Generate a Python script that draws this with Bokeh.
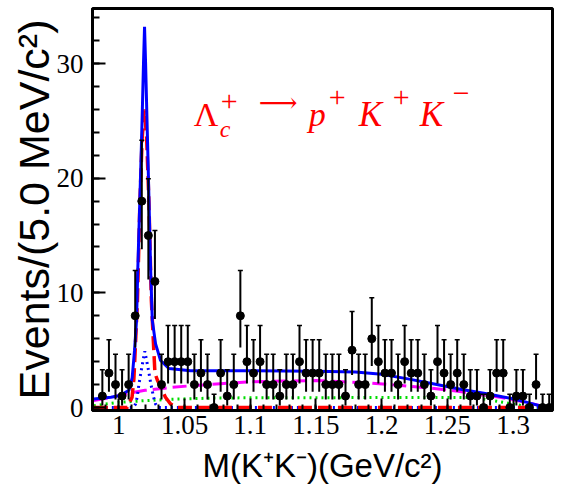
import numpy as np
from bokeh.plotting import figure
from bokeh.models import Range1d, FixedTicker, CustomJSTickFormatter, Label, ColumnDataSource
from bokeh.embed import file_html
from bokeh.resources import INLINE

# ---- data ----
bin_centers = [0.9875, 0.9925, 0.9975, 1.0025, 1.0075, 1.0125, 1.0175, 1.0225, 1.0275, 1.0325,
               1.0375, 1.0425, 1.0475, 1.0525, 1.0575, 1.0625, 1.0675, 1.0725, 1.0775, 1.0825,
               1.0875, 1.0925, 1.0975, 1.1025, 1.1075, 1.1125, 1.1175, 1.1225, 1.1275, 1.1325,
               1.1375, 1.1425, 1.1475, 1.1525, 1.1575, 1.1625, 1.1675, 1.1725, 1.1775, 1.1825,
               1.1875, 1.1925, 1.1975, 1.2025, 1.2075, 1.2125, 1.2175, 1.2225, 1.2275, 1.2325,
               1.2375, 1.2425, 1.2475, 1.2525, 1.2575, 1.2625, 1.2675, 1.2725, 1.2775, 1.2825,
               1.2875, 1.2925, 1.2975, 1.3025, 1.3075, 1.3125, 1.3175, 1.3225, 1.3275]
counts = [1, 3, 2, 1, 2, 8, 18, 15, 11, 2,
          4, 4, 4, 4, 2, 3, 2, 0, 3, 1,
          2, 8, 4, 3, 4, 2, 2, 1, 2, 2,
          4, 3, 3, 3, 2, 2, 2, 1, 5, 2,
          2, 6, 4, 3, 3, 2, 4, 3, 3, 2,
          1, 4, 3, 2, 3, 2, 1, 1, 0, 1,
          3, 3, 0, 1, 1, 0, 2, 0, 0]

# Poisson (68.3%) interval: count -> (down, up)
poisson_err = {0: (0.0, 1.15), 1: (0.83, 2.30), 2: (1.29, 2.64), 3: (1.63, 2.92),
               4: (1.91, 3.16), 5: (2.16, 3.38), 6: (2.38, 3.58), 8: (2.77, 3.95),
               11: (3.27, 4.43), 15: (3.83, 4.96), 18: (4.20, 5.30)}

# total fit (blue solid)
total_x = [0.981, 0.994, 1.001, 1.0077, 1.0102, 1.012, 1.0135, 1.0145, 1.016, 1.0175, 1.0188,
           1.0196, 1.0204, 1.0217, 1.023, 1.0242, 1.0255, 1.028, 1.0318, 1.0381, 1.0546,
           1.10, 1.15, 1.18, 1.20, 1.22, 1.24, 1.26, 1.28, 1.30, 1.315, 1.325, 1.33]
total_y = [0.75, 0.9, 1.05, 1.5, 2.6, 5.0, 7.6, 12.2, 18.0, 24.0, 30.0,
           33.2, 30.0, 24.0, 18.0, 12.2, 7.6, 5.55, 4.1, 3.4, 3.2,
           3.2, 3.17, 3.1, 2.9, 2.5, 2.05, 1.6, 1.2, 0.76, 0.32, 0.0, 0.0]

# phi signal (red dashed)
phi_x = [0.981, 1.0065, 1.0101, 1.0115, 1.0142, 1.0161, 1.0178, 1.0195, 1.0212, 1.0229,
         1.0248, 1.0275, 1.0295, 1.0355, 1.0395, 1.0445, 1.33]
phi_y = [0.0, 0.0, 0.9, 2.5, 9.3, 18.0, 23.5, 26.0, 23.5, 18.0,
         9.3, 3.0, 2.35, 0.9, 0.3, 0.0, 0.0]

# second peaking component (blue dotted)
dot_x = [0.981, 1.011, 1.0127, 1.014, 1.0153, 1.0175, 1.0198, 1.0222, 1.0245, 1.0265, 1.028, 1.030, 1.33]
dot_y = [0.0, 0.0, 0.3, 0.9, 2.0, 3.5, 4.9, 3.5, 2.0, 0.9, 0.3, 0.0, 0.0]

# non-resonant (magenta long dash)
mag_x = [0.981, 0.995, 1.006, 1.02, 1.04, 1.055, 1.08, 1.10, 1.15, 1.19, 1.217, 1.245,
         1.262, 1.29, 1.31, 1.325, 1.33]
mag_y = [0.6, 0.9, 1.2, 1.5, 1.75, 1.9, 2.1, 2.25, 2.35, 2.15, 1.9, 1.6,
         1.35, 0.9, 0.45, 0.05, 0.0]

# combinatorial background (green dotted)
grn_x = [0.981, 0.99, 1.0, 1.02, 1.04, 1.07, 1.10, 1.27, 1.29, 1.31, 1.32, 1.33]
grn_y = [0.15, 0.3, 0.45, 0.6, 0.72, 0.82, 0.85, 0.88, 0.5, 0.1, 0.0, 0.0]

x_ticks = [1.0, 1.05, 1.1, 1.15, 1.2, 1.25, 1.3]
y_ticks = [0, 10, 20, 30]
x_title = "M(K\u207aK\u207b)(GeV/c\u00b2)"
y_title = "Events/(5.0 MeV/c\u00b2)"

# ---- figure ----
x0, x1, y0, y1 = 0.98, 1.33, -0.26, 34.8
p = figure(width=560, height=488, x_range=Range1d(x0, x1), y_range=Range1d(y0, y1),
           output_backend="svg", toolbar_location=None,
           min_border_left=92, min_border_right=8, min_border_top=8, min_border_bottom=78)
p.grid.visible = False
p.outline_line_color = "black"
p.outline_line_width = 3
p.background_fill_color = "white"
p.border_fill_color = "white"

xa = p.xaxis[0]
xa.ticker = FixedTicker(ticks=x_ticks, minor_ticks=[round(0.98 + 0.01 * k, 3) for k in range(36)])
xa.formatter = CustomJSTickFormatter(code="return String(parseFloat(tick.toFixed(2)));")
ya = p.yaxis[0]
ya.ticker = FixedTicker(ticks=y_ticks, minor_ticks=list(range(0, 36, 2)))

for ax, tin, mtin in ((xa, 12, 6), (ya, 13, 7)):
    ax.axis_line_width = 3
    ax.axis_line_color = "black"
    ax.major_tick_in = tin
    ax.major_tick_out = 0
    ax.minor_tick_in = mtin
    ax.minor_tick_out = 0
    ax.major_tick_line_width = 2
    ax.minor_tick_line_width = 2
    ax.major_tick_line_color = "black"
    ax.minor_tick_line_color = "black"
    ax.major_label_text_font = "Liberation Sans Narrow"
    ax.major_label_text_font_size = "27px"
    ax.major_label_text_color = "black"
    ax.axis_label_text_font = "Liberation Sans"
    ax.axis_label_text_font_style = "normal"
    ax.axis_label_text_color = "black"

xa.major_label_standoff = 5
ya.major_label_standoff = 9
xa.axis_label = x_title
xa.axis_label_text_font_size = "33px"
xa.axis_label_standoff = 10
ya.axis_label = y_title
ya.axis_label_text_font_size = "43px"
ya.axis_label_standoff = -4

# fit curves
p.line(grn_x, grn_y, line_color="#00dd00", line_width=3, line_dash="2 4")
p.line(mag_x, mag_y, line_color="#ff00ff", line_width=3, line_dash="14 6")
p.line(dot_x, dot_y, line_color="#0000ff", line_width=3, line_dash="2 4")
p.line(phi_x, phi_y, line_color="#ff0000", line_width=3.5, line_dash="14 6")
p.line(total_x, total_y, line_color="#0000ff", line_width=3)

# data with error bars
lo = [c - poisson_err[c][0] for c in counts]
hi = [c + poisson_err[c][1] for c in counts]
src = ColumnDataSource(dict(x=bin_centers, y=counts, lo=lo, hi=hi))
p.segment(x0="x", y0="lo", x1="x", y1="hi", source=src, line_color="black", line_width=2)
p.scatter(x="x", y="hi", source=src, marker="dash", size=5, line_color="black", line_width=1.5)
p.scatter(x="x", y="y", source=src, marker="circle", size=8, fill_color="black", line_color="black")

# decay formula
ax0, ay0 = 1.057, 24.76
pieces = [
    ("\u039b", 0, 9, "34px", "normal", "alphabetic", "Liberation Serif"),
    ("c", 26, -5, "24px", "italic", "alphabetic", "Liberation Serif"),
    ("+", 27, 22, "30px", "normal", "middle", "Liberation Serif"),
    ("\u27f6", 65, 21, "27px", "normal", "middle", "DejaVu Serif"),
    ("p", 115, 9, "34px", "italic", "alphabetic", "Liberation Serif"),
    ("+", 135, 26, "30px", "normal", "middle", "Liberation Serif"),
    ("K", 165, 9, "35px", "italic", "alphabetic", "Liberation Serif"),
    ("+", 199, 26, "30px", "normal", "middle", "Liberation Serif"),
    ("K", 226, 9, "35px", "italic", "alphabetic", "Liberation Serif"),
    ("\u2212", 259, 30, "30px", "normal", "middle", "Liberation Serif"),
]
for t, dx, dy, fs, st, bl, fnt in pieces:
    p.add_layout(Label(x=ax0, y=ay0, x_offset=dx, y_offset=dy, text=t, text_color="#ff0000",
                       text_font=fnt, text_font_size=fs, text_font_style=st,
                       text_baseline=bl, text_align="left"))

open("out.html", "w").write(file_html(p, INLINE))
